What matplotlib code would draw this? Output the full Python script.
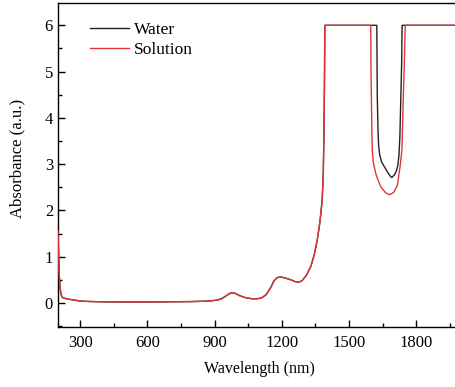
import matplotlib.pyplot as plt
from matplotlib.ticker import MultipleLocator

# shared part of the spectrum (both samples overlap here)
base_wl = [200, 203, 206, 210, 215, 220, 230, 250, 275, 300, 350, 400, 500, 600,
           700, 800, 870, 910, 930, 950, 965, 978, 990, 1010, 1040, 1070, 1090,
           1110, 1130, 1150, 1165, 1180, 1195, 1215, 1240, 1260, 1275, 1290, 1310,
           1330, 1345, 1358, 1370, 1380, 1385, 1388, 1390, 1392]
base_abs = [1.55, 1.1, 0.6, 0.3, 0.17, 0.12, 0.1, 0.08, 0.06, 0.04, 0.03, 0.025, 0.02, 0.02,
            0.025, 0.03, 0.04, 0.06, 0.09, 0.15, 0.2, 0.22, 0.21, 0.16, 0.11, 0.09, 0.09,
            0.11, 0.18, 0.33, 0.48, 0.55, 0.56, 0.54, 0.5, 0.46, 0.45, 0.48, 0.6,
            0.8, 1.05, 1.36, 1.75, 2.22, 2.8, 3.67, 4.6, 6.0]

# saturated band, then the window around 1700 nm
water_wl = [1624, 1626, 1629, 1632, 1637, 1645, 1657, 1668, 1677, 1684, 1690, 1697,
            1704, 1712, 1718, 1723, 1727, 1731, 1735, 1737, 2000]
water_abs = [6.0, 4.5, 3.8, 3.4, 3.2, 3.05, 2.95, 2.86, 2.79, 2.74, 2.71, 2.74,
             2.78, 2.86, 2.98, 3.2, 3.6, 4.38, 5.2, 6.0, 6.0]

sol_wl = [1597, 1598, 1600, 1602, 1604, 1608, 1619, 1630, 1642, 1653, 1664, 1679,
          1690, 1701, 1716, 1728, 1736, 1742, 1747, 1751, 2000]
sol_abs = [6.0, 5.0, 4.38, 3.7, 3.3, 3.05, 2.8, 2.65, 2.51, 2.44, 2.38, 2.34,
           2.36, 2.4, 2.55, 2.95, 3.3, 4.38, 5.2, 6.0, 6.0]

plt.rcParams['font.family'] = ['Liberation Serif', 'DejaVu Serif']

fig = plt.figure(figsize=(4.56, 3.87), dpi=100)
ax = fig.add_axes([0.127, 0.155, 0.884, 0.837])

ax.plot(base_wl + water_wl, base_abs + water_abs, color='#222222', lw=1.0,
        label='Water', zorder=3)
ax.plot(base_wl + sol_wl, base_abs + sol_abs, color='#e0363a', lw=1.0,
        label='Solution', zorder=3)

ax.set_xlim(200, 2000)
ax.set_ylim(-0.52, 6.48)
ax.xaxis.set_major_locator(MultipleLocator(300))
ax.xaxis.set_minor_locator(MultipleLocator(150))
ax.yaxis.set_major_locator(MultipleLocator(1))
ax.yaxis.set_minor_locator(MultipleLocator(0.5))
ax.set_xticks([300, 600, 900, 1200, 1500, 1800])
ax.tick_params(which='both', direction='in', width=1.0, labelsize=12)
ax.tick_params(which='major', length=5)
ax.tick_params(which='minor', length=3)
ax.tick_params(axis='x', pad=6)
for s in ax.spines.values():
    s.set_linewidth(1.0)

ax.set_xlabel('Wavelength (nm)', fontsize=11.5, labelpad=7)
ax.set_ylabel('Absorbance (a.u.)', fontsize=12)
ax.yaxis.set_label_coords(-0.08, 0.52)

ax.legend(loc='upper left', bbox_to_anchor=(0.042, 0.99), frameon=False,
          fontsize=12.5, handlelength=2.2, handletextpad=0.3, labelspacing=0.2)

fig.savefig('out.png', dpi=100)
